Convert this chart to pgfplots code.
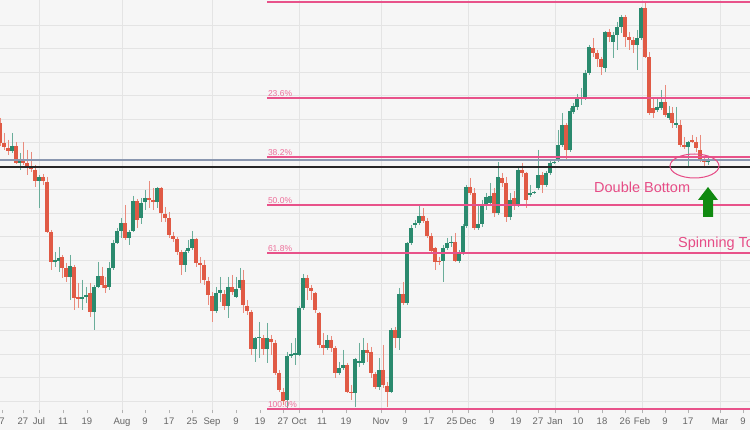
\documentclass[border=0pt]{standalone}
\usepackage{pgfplots}
\pgfplotsset{compat=1.18}
\usepackage{pgfplotstable}
\usepackage{fontspec}
\setmainfont{Liberation Sans}
\definecolor{bg}{HTML}{F6F6F6}
\definecolor{gridc}{HTML}{E4E4E4}
\definecolor{tickc}{HTML}{666666}
\definecolor{upc}{HTML}{2A8A6E}
\definecolor{dnc}{HTML}{E05A45}
\definecolor{fib}{HTML}{E8528A}
\definecolor{fibtxt}{HTML}{EE6E9A}
\definecolor{annot}{HTML}{E64C86}
\definecolor{steel}{HTML}{8A97B0}
\definecolor{arrowg}{HTML}{118A11}

% x = horizontal position, o h l c = open, high, low, close on the chart's vertical scale (reversed)
\pgfplotstableread{
x o h l c
0 123 118 146 143
4 143 133 150 147
8 148 140 155 151
12 151 133 153 146
16 146 142 164 163
20 163 153 170 159
23 159 142 165 163
27 163 150 175 166
31 167 152 172 169
35 170 165 187 181
39 181 175 208 177
43 177 174 185 181
47 182 177 233 232
51 232 230 270 262
55 262 252 267 260
59 261 247 272 258
62 257 255 278 268
66 268 263 282 277
70 277 255 300 266
74 267 265 310 298
78 297 283 308 299
82 299 280 310 297
86 297 287 303 295
90 293 283 317 312
94 312 285 330 287
98 287 262 288 276
102 276 267 288 285
105 285 277 293 288
109 287 262 290 268
113 268 240 270 243
117 243 228 244 231
121 231 218 238 223
125 223 205 240 238
129 238 230 245 232
133 231 196 232 201
137 201 199 228 220
141 218 198 224 203
145 202 190 210 198
149 198 181 208 200
153 200 188 210 202
157 202 187 208 188
161 188 187 222 213
165 214 207 222 218
169 218 212 238 235
173 236 232 242 239
177 239 237 255 252
181 252 250 275 265
185 265 250 272 252
188 251 240 253 248
192 248 231 250 239
196 239 238 267 263
200 263 257 283 265
204 265 260 285 280
208 281 277 305 295
212 296 292 322 311
216 311 287 313 293
220 293 277 302 290
224 294 290 310 306
228 306 277 318 287
232 287 275 295 292
236 297 277 298 289
240 288 268 290 280
243 280 270 313 305
247 306 300 315 311
251 312 310 355 349
255 349 337 362 338
259 338 322 358 337
263 338 335 355 349
267 349 323 363 338
271 339 335 355 342
275 343 340 375 373
279 373 370 392 390
283 392 388 405 401
287 400 352 409 356
291 356 343 358 354
295 355 338 365 353
299 355 306 356 308
303 308 274 310 278
307 278 275 300 288
311 288 285 300 291
315 293 292 313 310
319 313 312 348 345
323 345 333 355 348
327 348 335 350 340
331 340 336 352 348
335 348 346 378 373
339 373 362 375 368
343 368 350 370 365
347 365 363 393 392
351 392 385 400 393
355 393 358 407 359
359 363 343 367 361
363 363 338 365 350
367 350 343 362 353
371 352 347 378 373
375 374 372 389 387
379 387 358 390 370
383 370 345 388 385
387 386 382 407 392
391 392 328 393 330
395 330 327 348 338
399 338 288 350 294
403 294 282 305 303
407 303 242 305 243
411 243 225 245 228
415 225 220 228 223
419 223 206 225 216
423 216 208 223 221
427 221 218 238 236
431 236 233 253 251
435 248 247 270 262
439 261 257 265 262
443 261 245 282 248
447 248 238 250 243
451 243 236 247 242
455 242 233 262 261
459 261 250 263 252
463 252 224 255 226
466 226 185 228 187
470 187 178 195 193
474 193 188 230 228
478 228 205 230 224
482 224 200 227 206
486 206 193 210 197
490 203 183 205 196
494 193 188 217 213
498 213 162 215 177
502 178 173 187 183
506 183 177 222 217
510 217 193 220 200
514 198 191 210 205
518 205 167 207 170
522 170 163 177 173
526 173 172 208 200
530 195 185 197 193
534 193 191 194 192
538 188 150 190 175
542 175 172 193 185
546 185 171 187 173
550 173 160 175 163
554 163 160 164 162
558 160 130 162 145
562 145 113 147 125
566 125 123 160 150
570 150 108 152 111
573 112 103 114 106
577 107 94 110 97
581 99 88 105 97
585 99 70 100 73
589 73 45 75 47
593 48 38 57 53
597 53 50 67 59
601 59 57 75 67
605 68 31 72 32
609 32 29 42 37
613 42 32 58 35
617 35 22 50 27
621 27 15 33 17
625 17 15 47 37
629 37 32 50 40
633 40 37 53 45
637 45 30 70 38
641 38 7 40 8
645 8 2 58 57
649 57 52 115 113
653 108 97 118 113
657 110 97 112 107
661 108 90 110 102
665 102 85 117 115
669 118 106 120 113
672 113 107 128 123
676 125 107 128 123
680 125 120 147 145
684 145 137 149 147
688 147 141 168 142
692 140 135 143 142
696 142 137 152 148
700 150 135 162 160
704 160 157 168 162
708 162 157 165 160
}\candles

\begin{document}
\begin{tikzpicture}
\useasboundingbox (0,-20pt) rectangle (750pt,410pt);
\fill[bg] (0,-20pt) rectangle (750pt,410pt);
\begin{axis}[
  at={(0,0)}, anchor=south west,
  scale only axis, width=750pt, height=410pt,
  xmin=0, xmax=750, ymin=0, ymax=410, y dir=reverse,
  axis line style={draw=none},
  ytick={25,48.5,...,402}, yticklabels={}, ytick style={draw=none},
  ymajorgrids=true,
  grid style={gridc, line width=0.8pt},
  xtick={2,23,63,87,145,169,192,236,260,283,322,346,405,429,452,492,516,538,578,602,625,665,688,743},
  xticklabels={7,27,11,19,9,17,25,9,19,27,11,19,9,17,25,9,19,27,10,18,26,9,17,9},
  extra x ticks={39,122,212,299,381,468,555,642,720},
  extra x tick labels={Jul,Aug,Sep,Oct,Nov,Dec,Jan,Feb,Mar},
  extra x tick style={grid=major},
  xtick pos=left, tick align=outside, major tick length=3pt,
  xtick style={tickc!50, line width=0.6pt},
  xticklabel style={font=\fontsize{9.5}{10}\selectfont, text=tickc, yshift=-1pt},
]
% wicks
\addplot[draw=none, mark=none, forget plot,
  restrict expr to domain={\thisrow{o}-\thisrow{c}}{0.001:1000},
  error bars/.cd, y dir=plus, y explicit, error mark=none,
  error bar style={line width=0.9pt, upc!70}]
  table[x=x, y=h, y error expr={\thisrow{l}-\thisrow{h}}] {\candles};
\addplot[draw=none, mark=none, forget plot,
  restrict expr to domain={\thisrow{o}-\thisrow{c}}{-1000:0},
  error bars/.cd, y dir=plus, y explicit, error mark=none,
  error bar style={line width=0.9pt, dnc!70}]
  table[x=x, y=h, y error expr={\thisrow{l}-\thisrow{h}}] {\candles};
% bodies
\addplot[draw=none, mark=none, forget plot,
  restrict expr to domain={\thisrow{o}-\thisrow{c}}{0.001:1000},
  error bars/.cd, y dir=plus, y explicit, error mark=none,
  error bar style={line width=3.3pt, upc}]
  table[x=x, y=c, y error expr={max(\thisrow{o}-\thisrow{c},1)}] {\candles};
\addplot[draw=none, mark=none, forget plot,
  restrict expr to domain={\thisrow{o}-\thisrow{c}}{-1000:0},
  error bars/.cd, y dir=plus, y explicit, error mark=none,
  error bar style={line width=3.3pt, dnc}]
  table[x=x, y=o, y error expr={max(\thisrow{c}-\thisrow{o},1)}] {\candles};

% support lines
\draw[steel, line width=1.6pt] (axis cs:0,160) -- (axis cs:750,160);
\draw[black!85, line width=1.1pt] (axis cs:0,167) -- (axis cs:750,167);
% Fibonacci levels
\draw[fib, line width=1.2pt] (axis cs:267,2) -- (axis cs:750,2);
\draw[fib, line width=1.2pt] (axis cs:267,98) -- (axis cs:750,98);
\draw[fib, line width=1.2pt] (axis cs:267,157) -- (axis cs:750,157);
\draw[fib, line width=1.2pt] (axis cs:267,205) -- (axis cs:750,205);
\draw[fib, line width=1.2pt] (axis cs:267,253) -- (axis cs:750,253);
\draw[fib, line width=1.2pt] (axis cs:267,409) -- (axis cs:750,409);
\end{axis}
\begin{scope}[font=\fontsize{8.5}{9}\selectfont, text=fibtxt, inner sep=0.8pt]
\node[anchor=south west] at (267pt,408pt) {0.0\%};
\node[anchor=south west] at (267pt,312pt) {23.6\%};
\node[anchor=south west] at (267pt,253pt) {38.2\%};
\node[anchor=south west] at (267pt,205pt) {50.0\%};
\node[anchor=south west] at (267pt,157pt) {61.8\%};
\node[anchor=south west] at (267pt,1pt) {100.0\%};
\end{scope}
\node[anchor=west, text=annot, font=\fontsize{14.5}{16}\selectfont, inner sep=0pt] at (594pt,223pt) {Double Bottom};
\node[anchor=west, text=annot, font=\fontsize{14.5}{16}\selectfont, inner sep=0pt] at (678pt,166pt) {Spinning Top};
\draw[annot, line width=1pt] (694.5pt,244pt) ellipse [x radius=24.5pt, y radius=12pt];
\fill[arrowg] (698pt,210pt) -- (708pt,223pt) -- (718pt,210pt) -- (713pt,210pt) -- (713pt,193pt) -- (703pt,193pt) -- (703pt,210pt) -- cycle;
\end{tikzpicture}
\end{document}
